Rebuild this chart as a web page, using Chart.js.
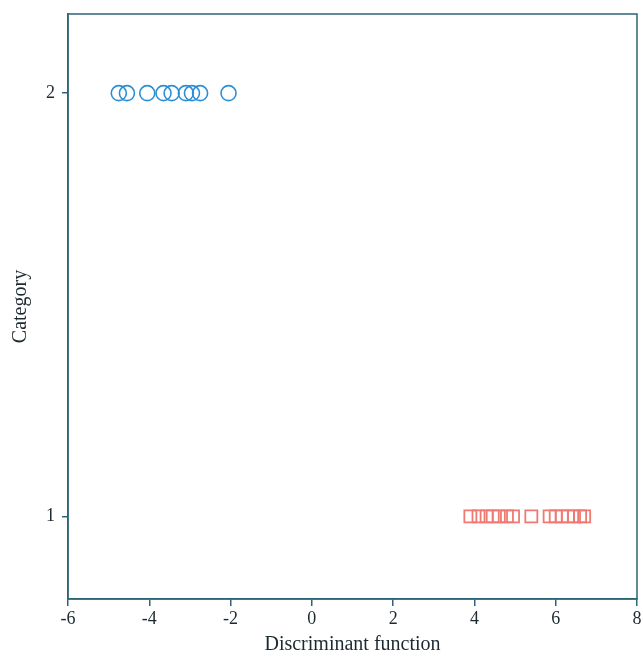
<!DOCTYPE html>
<html>
<head>
<meta charset="utf-8">
<script src="https://cdn.jsdelivr.net/npm/chart.js@4/dist/chart.umd.min.js"></script>
<style>
  html, body { margin: 0; padding: 0; background: #fff; overflow: hidden; }
  canvas { display: block; }
</style>
</head>
<body>
<canvas id="grafico" width="643" height="657"></canvas>
<script>
// valores
var grupo2X = [-4.75, -4.55, -4.05, -3.65, -3.45, -3.1, -2.95, -2.75, -2.05];
var grupo2Y = 2;
var grupo1X = [3.9, 4.1, 4.3, 4.45, 4.6, 4.8, 4.95, 5.4, 5.85, 6.0, 6.15, 6.3, 6.45, 6.6, 6.7];
var grupo1Y = 1;
var ticksX = [-6, -4, -2, 0, 2, 4, 6, 8];
var ticksY = [1, 2];

var colorEje = "#2c6477";
var colorTexto = "#1c2a30";
var azul = "#2b8fd6";
var rojo = "#f07a72";

function puntos(xs, y) {
	var arr = [];
	for (var i = 0; i < xs.length; i++) {
		arr.push({ x: xs[i], y: y });
	}
	return arr;
}

// marco alrededor del área del gráfico
var marco = {
	id: "marco",
	afterDraw: function(chart) {
		var a = chart.chartArea;
		var ctx = chart.ctx;
		ctx.save();
		ctx.strokeStyle = colorEje;
		ctx.lineWidth = 1.5;
		ctx.strokeRect(a.left, a.top, a.right - a.left, a.bottom - a.top);
		ctx.restore();
	}
};

var ctx = document.getElementById("grafico").getContext("2d");
new Chart(ctx, {
	type: "scatter",
	data: {
		datasets: [
			{
				label: "2",
				data: puntos(grupo2X, grupo2Y),
				pointStyle: "circle",
				pointRadius: 7.5,
				pointHoverRadius: 7.5,
				borderColor: azul,
				backgroundColor: "rgba(0,0,0,0)",
				pointBorderWidth: 1.6
			},
			{
				label: "1",
				data: puntos(grupo1X, grupo1Y),
				pointStyle: "rect",
				pointRadius: 8.5,
				pointHoverRadius: 8.5,
				borderColor: rojo,
				backgroundColor: "rgba(0,0,0,0)",
				pointBorderWidth: 1.8
			}
		]
	},
	options: {
		responsive: false,
		animation: false,
		layout: { autoPadding: false, padding: { top: 14, right: 6, left: 0, bottom: 0 } },
		plugins: {
			legend: { display: false },
			tooltip: { enabled: false }
		},
		scales: {
			x: {
				type: "linear",
				min: -6,
				max: 8,
				afterBuildTicks: function(scale) {
					scale.ticks = ticksX.map(function(v) { return { value: v }; });
				},
				afterFit: function(scale) {
					scale.height = 58;
					scale.paddingLeft = 0;
					scale.paddingRight = 0;
				},
				grid: { drawOnChartArea: false, drawTicks: true, tickLength: 7, color: colorEje, lineWidth: 1.5 },
				border: { display: true, color: colorEje, width: 1.5 },
				ticks: {
					color: colorTexto,
					padding: 2,
					maxRotation: 0,
					font: { family: "'Liberation Serif', 'DejaVu Serif', serif", size: 18 }
				},
				title: {
					display: true,
					text: "Discriminant function",
					color: colorTexto,
					padding: { top: 2, bottom: 0 },
					font: { family: "'Liberation Serif', 'DejaVu Serif', serif", size: 20 }
				}
			},
			y: {
				type: "linear",
				min: 0.805,
				max: 2.187,
				afterBuildTicks: function(scale) {
					scale.ticks = ticksY.map(function(v) { return { value: v }; });
				},
				afterFit: function(scale) {
					scale.width = 68;
					scale.paddingTop = 0;
					scale.paddingBottom = 0;
				},
				grid: { drawOnChartArea: false, drawTicks: true, tickLength: 6, color: colorEje, lineWidth: 1.5 },
				border: { display: true, color: colorEje, width: 1.5 },
				ticks: {
					color: colorTexto,
					padding: 7,
					font: { family: "'Liberation Serif', 'DejaVu Serif', serif", size: 18 }
				},
				title: {
					display: true,
					text: "Category",
					color: colorTexto,
					padding: { top: 9, bottom: 0 },
					font: { family: "'Liberation Serif', 'DejaVu Serif', serif", size: 20 }
				}
			}
		}
	},
	plugins: [marco]
});
</script>
</body>
</html>
